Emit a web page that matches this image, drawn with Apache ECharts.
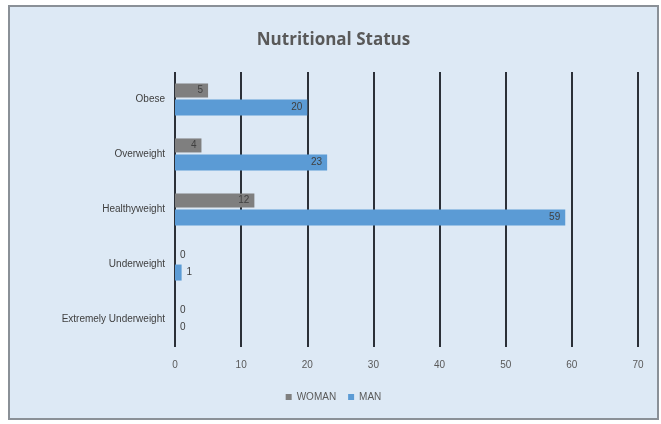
<!DOCTYPE html>
<html>
<head>
<meta charset="utf-8">
<script src="https://cdn.jsdelivr.net/npm/echarts@6/dist/echarts.min.js"></script>
<style>
    html, body { margin: 0; padding: 0; background: #fff; }
    #chart {
        position: absolute;
        left: 8px; top: 5px;
        width: 651px; height: 415px;
        background: #dde9f5;
        border: 2px solid #8a9097;
        box-sizing: border-box;
    }
</style>
</head>
<body>
<div id="chart"></div>
<script>
    // categories, top to bottom
    const categories = ['Obese', 'Overweight', 'Healthyweight', 'Underweight', 'Extremely Underweight'];
    const womanValues = [5, 4, 12, 0, 0];
    const manValues = [20, 23, 59, 1, 0];
    const xTicks = [0, 10, 20, 30, 40, 50, 60, 70];

    // label inside the bar end, zero values just beside the axis
    function withLabels(arr) {
        return arr.map(function (v) {
            return {
                value: v,
                label: {position: v > 1 ? 'insideRight' : 'right'}
            };
        });
    }

    const chart = echarts.init(document.getElementById('chart'));
    chart.setOption({
        title: {
            text: 'Nutritional Status',
            left: 'center',
            top: 20,
            textStyle: {
                color: '#595959',
                fontSize: 17,
                fontWeight: 'bold',
                fontFamily: 'Open Sans'
            }
        },
        legend: {
            data: ['WOMAN', 'MAN'],
            bottom: 11,
            left: 'center',
            icon: 'rect',
            itemWidth: 6,
            itemHeight: 6,
            itemGap: 12,
            textStyle: {color: '#595959', fontSize: 10}
        },
        grid: {
            left: 165,
            right: 19,
            top: 65,
            bottom: 71
        },
        xAxis: {
            type: 'value',
            min: xTicks[0],
            max: xTicks[xTicks.length - 1],
            interval: 10,
            axisLine: {show: false},
            axisTick: {show: false},
            axisLabel: {color: '#595959', fontSize: 10, margin: 13},
            splitLine: {lineStyle: {color: '#2b3038', width: 2}}
        },
        yAxis: {
            type: 'category',
            data: categories,
            inverse: true,
            axisLine: {show: false},
            axisTick: {show: false},
            axisLabel: {color: '#404040', fontSize: 10, margin: 10}
        },
        series: [
            {
                name: 'WOMAN',
                type: 'bar',
                data: withLabels(womanValues),
                barWidth: 14,
                barGap: '15%',
                itemStyle: {color: '#7f7f7f'},
                label: {show: true, color: '#404040', fontSize: 10}
            },
            {
                name: 'MAN',
                type: 'bar',
                data: withLabels(manValues),
                barWidth: 16,
                itemStyle: {color: '#5b9bd5'},
                label: {show: true, color: '#404040', fontSize: 10}
            }
        ]
    });
</script>
</body>
</html>
